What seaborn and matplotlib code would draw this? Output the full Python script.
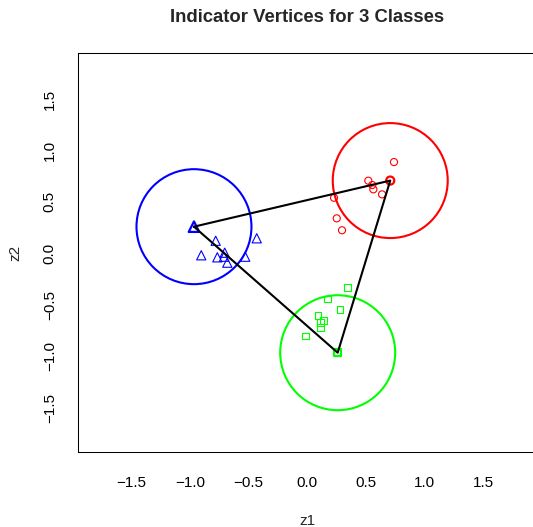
import numpy as np
import pandas as pd
import matplotlib
matplotlib.use("Agg")
import matplotlib.pyplot as plt
import seaborn as sns
from matplotlib.patches import Ellipse

# ---- data ----
red_z1 = [0.739, 0.520, 0.554, 0.563, 0.637, 0.228, 0.251, 0.296]
red_z2 = [0.887, 0.706, 0.664, 0.622, 0.573, 0.540, 0.340, 0.224]
blue_z1 = [-0.781, -0.431, -0.904, -0.767, -0.704, -0.710, -0.682, -0.529]
blue_z2 = [0.122, 0.146, -0.019, -0.039, 0.006, -0.033, -0.091, -0.033]
green_z1 = [0.341, 0.171, 0.279, 0.091, 0.136, 0.114, 0.114, -0.017]
green_z2 = [-0.330, -0.444, -0.548, -0.603, -0.655, -0.671, -0.719, -0.804]

class_names = ["red", "blue", "green"]
vertex_z1 = [0.707, -0.966, 0.259]
vertex_z2 = [0.707, 0.259, -0.966]
circle_radius = 0.49

ticks = [-1.5, -1.0, -0.5, 0.0, 0.5, 1.0, 1.5]
tick_labels = ["\u22121.5", "\u22121.0", "\u22120.5", "0.0", "0.5", "1.0", "1.5"]
title = "Indicator Vertices for 3 Classes"

# ---- styling ----
sns.set_style("white")
plt.rcParams["font.family"] = ["Liberation Sans", "DejaVu Sans"]

W, H = 533, 527
DPI = 100
fig = plt.figure(figsize=(W / DPI, H / DPI), dpi=DPI)
L, R, T, B = 78.3, 536.3, 53.3, 452.0
ax = fig.add_axes([L / W, 1 - B / H, (R - L) / W, (B - T) / H])
xlim = (-1.952, 1.952)
ylim = (-1.931, 1.944)
ax.set_xlim(*xlim)
ax.set_ylim(*ylim)

colors = {"red": "#FF0000", "blue": "#0000FF", "green": "#00FF00"}
markers = {"red": "o", "blue": "^", "green": "s"}
sizes = {"red": 26, "blue": 44, "green": 22}

df = pd.DataFrame({
    "z1": red_z1 + blue_z1 + green_z1,
    "z2": red_z2 + blue_z2 + green_z2,
    "cls": ["red"] * len(red_z1) + ["blue"] * len(blue_z1) + ["green"] * len(green_z1),
})
vdf = pd.DataFrame({"z1": vertex_z1, "z2": vertex_z2, "cls": class_names})

# circles (round on screen)
ppux = (R - L) / (xlim[1] - xlim[0])
ppuy = (B - T) / (ylim[1] - ylim[0])
for i, c in enumerate(class_names):
    e = Ellipse((vertex_z1[i], vertex_z2[i]), width=2 * circle_radius,
                height=2 * circle_radius * ppux / ppuy, fill=False,
                edgecolor=colors[c], lw=1.5, zorder=2)
    ax.add_patch(e)

for c in class_names:
    sub = df[df.cls == c]
    sns.scatterplot(data=sub, x="z1", y="z2", ax=ax, marker=markers[c],
                    s=sizes[c], facecolor="none", edgecolor=colors[c],
                    linewidth=0.8, zorder=3, legend=False)
    vs = vdf[vdf.cls == c]
    sns.scatterplot(data=vs, x="z1", y="z2", ax=ax, marker=markers[c],
                    s=sizes[c] * 1.3, facecolor="none", edgecolor=colors[c],
                    linewidth=1.6, zorder=3, legend=False)

# triangle edges
order = [1, 0, 2, 1]
ax.plot([vertex_z1[k] for k in order], [vertex_z2[k] for k in order],
        color="black", lw=1.5, zorder=4)

ax.set_xticks(ticks)
ax.set_xticklabels(tick_labels)
ax.set_yticks(ticks)
ax.set_yticklabels(tick_labels, rotation=90, va="center", ha="center")
ax.tick_params(axis="both", direction="out", length=7.5, width=0.75,
               color="black", labelsize=11, labelcolor="black")
ax.tick_params(axis="x", pad=10)
ax.tick_params(axis="y", pad=13)
for sp in ax.spines.values():
    sp.set_color("black")
    sp.set_linewidth(0.75)
ax.set_xlabel("")
ax.set_ylabel("")

fig.text(307.3 / W, 1 - 22.5 / H, title, ha="center", va="baseline",
         fontsize=13.3, fontweight="bold")
fig.text(307.3 / W, 1 - 525 / H, "z1", ha="center", va="baseline", fontsize=11)
fig.text(15 / W, 1 - 252.7 / H, "z2", ha="center", va="center", rotation=90, fontsize=11)

fig.savefig("out.png", dpi=DPI)
